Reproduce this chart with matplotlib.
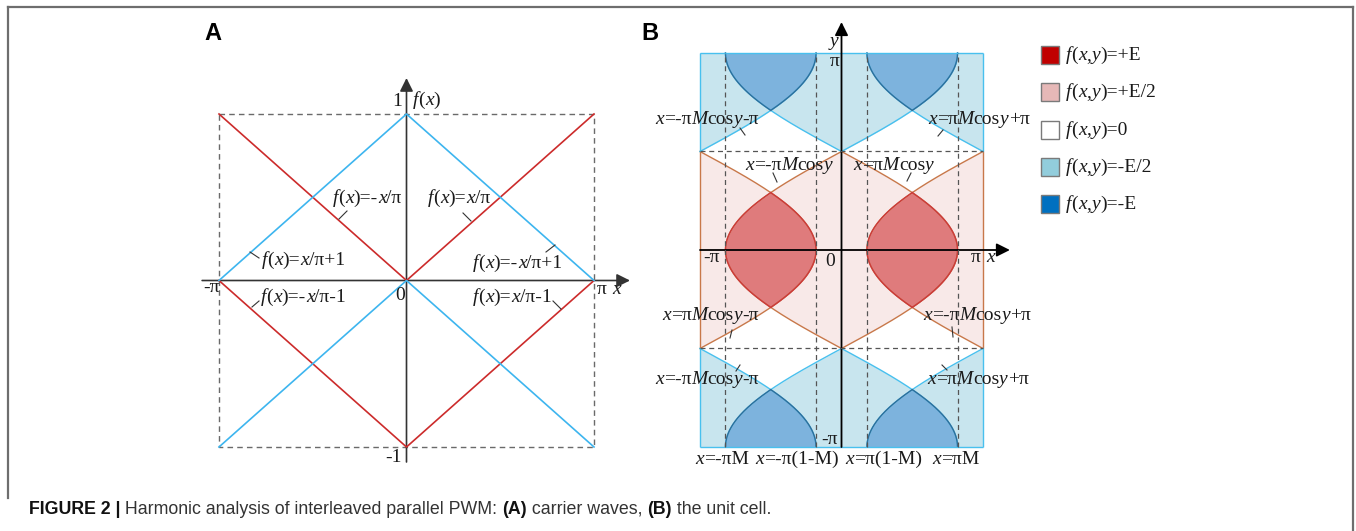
"""
Figura 2: portadoras intercaladas (A) e célula unitária (B).
"""
import numpy as np
import matplotlib
matplotlib.use("Agg")
import matplotlib.pyplot as plt
from matplotlib.offsetbox import TextArea, HPacker, AnnotationBbox
from matplotlib.patches import Rectangle

W, H = 1356, 531
SERIF = "Liberation Serif"
SANS = "Liberation Sans"
TXT = "#1a1a1a"

# --- painel A: portadoras num período (x em unidades de pi) ---
carrier_x = [-1, 0, 1]
red_upper = [1, 0, 1]      # f=-x/pi , f=x/pi
red_lower = [0, -1, 0]     # f=-x/pi-1 , f=x/pi-1
blue_upper = [0, 1, 0]     # f=x/pi+1 , f=-x/pi+1
blue_lower = [-1, 0, -1]   # f=x/pi , f=-x/pi
RED = "#cc2b2b"
BLUE = "#3db5ef"

# --- painel B: célula unitária (x, y em unidades de pi) ---
M = 0.82
legend_labels = ["*f*(*x*,*y*)=+E", "*f*(*x*,*y*)=+E/2", "*f*(*x*,*y*)=0",
                 "*f*(*x*,*y*)=-E/2", "*f*(*x*,*y*)=-E"]
legend_colors = ["#c00000", "#e6b8b7", "#ffffff", "#92cddc", "#0070c0"]
guide_labels = ["*x*=-πM", "*x*=-π(1-M)", "*x*=π(1-M)", "*x*=πM"]

A_labels = [  # texto, x esq (px), y centro (px), traço-guia
    ("*f*(*x*)=-*x*/π", 333, 198, (339, 219, 347, 211)),
    ("*f*(*x*)=*x*/π", 428, 198, (463, 213, 471, 221)),
    ("*f*(*x*)=*x*/π+1", 262, 260, (250, 252, 259, 258)),
    ("*f*(*x*)=-*x*/π+1", 473, 263, (546, 252, 555, 245)),
    ("*f*(*x*)=-*x*/π-1", 261, 297, (252, 307, 259, 301)),
    ("*f*(*x*)=*x*/π-1", 473, 297, (553, 301, 561, 309)),
]
B_labels = [
    ("*x*=-π*M*cos*y*-π", 655, 119, (740, 128, 745, 135)),
    ("*x*=π*M*cos*y*+π", 928, 119, (938, 136, 943, 130)),
    ("*x*=-π*M*cos*y*", 745, 165, (773, 173, 777, 182)),
    ("*x*=π*M*cos*y*", 853, 165, (907, 181, 911, 173)),
    ("*x*=π*M*cos*y*-π", 662, 316, (730, 338, 732, 330)),
    ("*x*=-π*M*cos*y*+π", 923, 316, (952, 327, 953, 337)),
    ("*x*=-π*M*cos*y*-π", 655, 380, (740, 365, 736, 371)),
    ("*x*=π*M*cos*y*+π", 927, 380, (942, 365, 947, 370)),
]

fig = plt.figure(figsize=(W / 100, H / 100), dpi=100)


def axes_px(box, xref, yref):
    # box em pixels (esq, topo, dir, base); refs = ((px, valor), (px, valor))
    l, t, r, b = box
    ax = fig.add_axes([l / W, 1 - b / H, (r - l) / W, (b - t) / H])
    (p0, v0), (p1, v1) = xref
    k = (v1 - v0) / (p1 - p0)
    ax.set_xlim(v0 + (l - p0) * k, v0 + (r - p0) * k)
    (q0, w0), (q1, w1) = yref
    k = (w1 - w0) / (q1 - q0)
    ax.set_ylim(w0 + (b - q0) * k, w0 + (t - q0) * k)
    ax.axis("off")
    return ax


def seta(ax, x0, y0, x1, y1, cor="k", lw=1.3):
    ax.annotate("", xy=(x1, y1), xytext=(x0, y0),
                arrowprops=dict(arrowstyle="-|>", color=cor, lw=lw,
                                mutation_scale=20, shrinkA=0, shrinkB=0))


def rich(ax, x, y, s, ha="left", alt=None, **base):
    # '*' alterna entre estilo base e estilo alternativo (itálico por padrão)
    alt = alt or {"style": "italic"}
    base = {"family": SERIF, "size": 14, "color": TXT, **base}
    boxes = []
    for i, p in enumerate(s.split("*")):
        if not p:
            continue
        props = dict(base)
        if i % 2:
            props.update(alt)
        boxes.append(TextArea(p, textprops=props))
    pack = HPacker(children=boxes, pad=0, sep=0, align="baseline")
    hx = {"left": 0, "center": 0.5, "right": 1}[ha]
    ab = AnnotationBbox(pack, (x, y), xycoords="data", frameon=False,
                        box_alignment=(hx, 0.5), pad=0, annotation_clip=False)
    ax.add_artist(ab)


# ---------------- painel A ----------------
axA = axes_px((190, 60, 640, 475), ((219, -1), (594, 1)), ((447, -1), (114, 1)))
bx = [min(carrier_x), max(carrier_x)]
by = [min(blue_lower), max(blue_upper)]
axA.plot([bx[0], bx[1], bx[1], bx[0], bx[0]], [by[1], by[1], by[0], by[0], by[1]],
         color="#6a6a6a", lw=1.0, ls=(0, (4, 3)), zorder=1)
seta(axA, -1.09, 0, 1.192, 0, cor="#333333", lw=1.2)
seta(axA, 0, -1.09, 0, 1.216, cor="#333333", lw=1.2)
for ys, cor in [(red_upper, RED), (red_lower, RED), (blue_upper, BLUE), (blue_lower, BLUE)]:
    axA.plot(carrier_x, ys, color=cor, lw=1.2, zorder=3)

# ---------------- painel B ----------------
axB = axes_px((645, 15, 1025, 470), ((700, -1), (983, 1)), ((447, -1), (53, 1)))
BAND_BLUE, LOBE_BLUE = "#c8e5ee", "#7db3dd"
BAND_PINK, LOBE_RED = "#f8e9e8", "#df7b7c"
LINE_BLUE, LINE_BROWN = "#48c0ee", "#c8784a"
EDGE_BLUE, EDGE_RED = "#2f6e9a", "#cc3a3a"


def faixa(y, metades, cor_faixa, cor_lobo, cor_linha, cor_borda, bordas_h=()):
    y0, y1 = y.min(), y.max()
    axB.add_patch(Rectangle((-1, y0), 2, y1 - y0, fc=cor_faixa, lw=0, zorder=1))
    for u, v in metades:
        axB.fill_betweenx(y, u, v, where=u <= v, interpolate=True, color="white", lw=0, zorder=2)
        axB.fill_betweenx(y, v, u, where=v <= u, interpolate=True, color=cor_lobo, lw=0, zorder=2)
        axB.plot(u, y, color=cor_linha, lw=1.0, zorder=3)
        axB.plot(v, y, color=cor_linha, lw=1.0, zorder=3)
        axB.plot(np.where(v <= u, u, np.nan), y, color=cor_borda, lw=1.0, zorder=3)
        axB.plot(np.where(v <= u, v, np.nan), y, color=cor_borda, lw=1.0, zorder=3)
    axB.vlines([-1, 1], y0, y1, colors=cor_linha, lw=1.0, zorder=3)
    if bordas_h:
        axB.hlines(bordas_h, -1, 1, colors=cor_linha, lw=1.0, zorder=3)


def metades_azuis(y):
    c = np.cos(np.pi * y)
    return [(-M * c - 1, M * c), (-M * c, M * c + 1)]


def metades_rosas(y):
    c = np.cos(np.pi * y)
    return [(M * c - 1, -M * c), (M * c, -M * c + 1)]


y_top = np.linspace(0.5, 1, 400)
y_mid = np.linspace(-0.5, 0.5, 800)
y_bot = np.linspace(-1, -0.5, 400)
faixa(y_mid, metades_rosas(y_mid), BAND_PINK, LOBE_RED, LINE_BROWN, EDGE_RED)
faixa(y_top, metades_azuis(y_top), BAND_BLUE, LOBE_BLUE, LINE_BLUE, EDGE_BLUE, [y_top.max()])
faixa(y_bot, metades_azuis(y_bot), BAND_BLUE, LOBE_BLUE, LINE_BLUE, EDGE_BLUE, [y_bot.min()])

guias = [-M, -(1 - M), 1 - M, M]
axB.vlines(guias, -1, 1, colors="#555555", lw=0.9, linestyles=(0, (4, 3)), zorder=4)
axB.hlines([-0.5, 0.5], -1, 1, colors="#555555", lw=0.9, linestyles=(0, (4, 3)), zorder=4)
seta(axB, -1, 0, 1.19, 0)
seta(axB, 0, -1, 0, 1.157)

# ---------------- textos (camada em pixels) ----------------
ov = fig.add_axes([0, 0, 1, 1], zorder=10)
ov.set_xlim(0, W)
ov.set_ylim(H, 0)
ov.axis("off")

# moldura
cm = "#6e6e6e"
ov.plot([8, 1353], [7, 7], color=cm, lw=1.6)
ov.plot([8, 8], [7, 498], color=cm, lw=1.6)
ov.plot([1353, 1353], [7, 531], color=cm, lw=1.6)

ov.text(213, 33, "A", family=SANS, weight="bold", size=17, ha="center", va="center")
ov.text(650, 33, "B", family=SANS, weight="bold", size=17, ha="center", va="center")

for s, x, y, (x0, y0, x1, y1) in A_labels + B_labels:
    rich(ov, x, y, s)
    ov.plot([x0, x1], [y0, y1], color="#333333", lw=0.8)

# eixos do painel A
rich(ov, 212, 288, "-π", ha="center")
rich(ov, 400, 296, "0", ha="center")
rich(ov, 597, 290, "π *x*")
rich(ov, 397, 102, "1", ha="center")
rich(ov, 413, 100, "*f*(*x*)")
rich(ov, 393, 458, "-1", ha="center")

# eixos do painel B
rich(ov, 834, 42, "*y*", ha="center")
rich(ov, 835, 61, "π", ha="center")
rich(ov, 712, 257, "-π", ha="center")
rich(ov, 830, 262, "0", ha="center")
rich(ov, 971, 257, "π *x*")
rich(ov, 830, 440, "-π", ha="center")
for s, xc in zip(guide_labels, [722, 797, 884, 956]):
    rich(ov, xc, 459, s, ha="center")

# legenda
for i, (lab, cor) in enumerate(zip(legend_labels, legend_colors)):
    yc = 55 + i * 37.3
    ov.add_patch(Rectangle((1041, yc - 9), 18, 18, fc=cor, ec="#7a7a7a", lw=1.0))
    rich(ov, 1066, yc, lab)

rich(ov, 29, 509,
     "*FIGURE 2 |* Harmonic analysis of interleaved parallel PWM: *(A)* carrier waves, *(B)* the unit cell.",
     alt={"weight": "bold", "color": "#111111"}, family=SANS, size=12.8, color="#333333")

fig.savefig("out.png", dpi=100)
